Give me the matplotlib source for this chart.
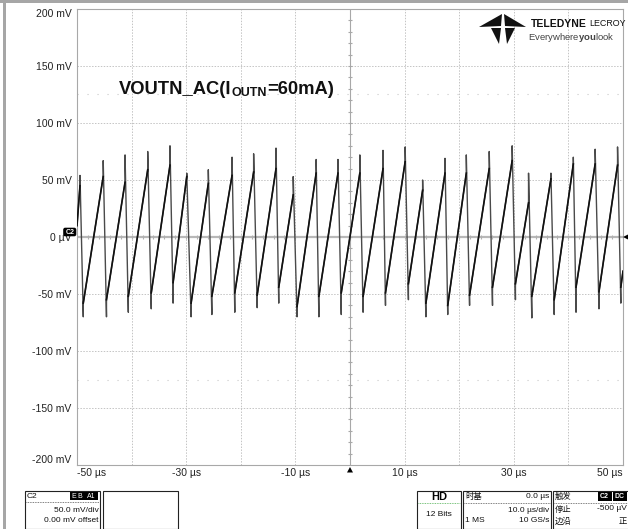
import numpy as np
import matplotlib
matplotlib.use('Agg')
import matplotlib.pyplot as plt
from matplotlib.patches import Rectangle, Polygon, FancyBboxPatch

# --- fonts --- #
plt.rcParams['font.family'] = ['Liberation Sans', 'Noto Sans CJK SC', 'DejaVu Sans']
plt.rcParams['mathtext.fontset'] = 'custom'
plt.rcParams['mathtext.rm'] = 'Liberation Sans'
plt.rcParams['mathtext.bf'] = 'Liberation Sans:bold'

# --- waveform (us, mV) --- #
start_t, start_v = -50.0, 10
end_t, end_v = 50.0, -30

peak_t = [-49.45, -45.2, -41.2, -37.05, -32.97, -29.9, -25.95, -21.6, -17.65,
          -13.55, -10.4, -6.2, -2.2, 1.8, 6.05, 10.1, 13.3, 17.4, 21.3, 25.5,
          29.7, 32.7, 36.8, 40.9, 44.9, 49.0]
peak_v = [45, 53, 48, 59, 63, 53, 47, 54, 57, 60, 37, 56, 56, 56, 60, 66, 41,
          56, 56, 60, 67, 30, 51, 64, 64, 63]
spike_hi = [54, 67, 72, 75, 80, 56, 59, 70, 73, 78, 53, 68, 68, 72, 76, 79, 50,
            69, 72, 75, 80, 56, 56, 70, 77, 79]

trough_t = [-48.85, -44.6, -40.6, -36.4, -32.4, -29.1, -25.3, -21.1, -17.0,
            -13.05, -9.7, -5.7, -1.6, 2.4, 6.5, 10.7, 13.9, 17.9, 21.9, 26.1,
            30.3, 33.3, 37.4, 41.4, 45.6, 49.6]
trough_v = [-58, -55, -52, -49, -40, -58, -52, -49, -51, -44, -61, -52, -49,
            -52, -49, -41, -58, -60, -51, -44, -41, -52, -55, -44, -48, -44]
spike_lo = [-70, -70, -66, -63, -58, -70, -68, -66, -62, -58, -70, -70, -68,
            -66, -60, -55, -70, -68, -60, -60, -55, -71, -68, -66, -63, -58]

y_ticks = [-200, -150, -100, -50, 0, 50, 100, 150, 200]
y_labels = ['-200 mV', '-150 mV', '-100 mV', '-50 mV', '0 \u00b5V', '50 mV',
            '100 mV', '150 mV', '200 mV']
x_ticks = [-50, -30, -10, 10, 30, 50]
x_labels = ['-50 \u00b5s', '-30 \u00b5s', '-10 \u00b5s', '10 \u00b5s', '30 \u00b5s', '50 \u00b5s']

# full trace (ramps + fast edges)
trace_t = [start_t]
trace_v = [start_v]
for i in range(len(peak_t)):
    trace_t += [peak_t[i], peak_t[i], trough_t[i], trough_t[i]]
    trace_v += [peak_v[i], spike_hi[i], spike_lo[i], trough_v[i]]
trace_t.append(end_t)
trace_v.append(end_v)

# ramps only, drawn a bit heavier on top
ramp_t = [start_t, peak_t[0], np.nan]
ramp_v = [start_v, peak_v[0], np.nan]
for i in range(len(trough_t)):
    nxt_t = peak_t[i + 1] if i + 1 < len(peak_t) else end_t
    nxt_v = peak_v[i + 1] if i + 1 < len(peak_v) else end_v
    ramp_t += [trough_t[i], nxt_t, np.nan]
    ramp_v += [trough_v[i], nxt_v, np.nan]

W, H = 628, 529
fig = plt.figure(figsize=(W / 100, H / 100), dpi=100)
fig.patch.set_facecolor('white')

ax = fig.add_axes([77 / W, 1 - 465 / H, 546 / W, 456 / H])
ax.set_xlim(-50, 50)
ax.set_ylim(-200, 200)
for s in ax.spines.values():
    s.set_color('#a8a8a8')
    s.set_linewidth(0.8)

grid_kw = dict(color='#c4c4c4', lw=0.7, ls=(0, (1.5, 1.5)), zorder=1)
for gx in np.arange(-40, 50, 10):
    if gx != 0:
        ax.axvline(gx, **grid_kw)
for gy in np.arange(-150, 200, 50):
    if gy != 0:
        ax.axhline(gy, **grid_kw)
for gy in (125, -125):
    ax.axhline(gy, color='#c8c8c8', lw=0.8, ls=(0, (1, 8)), zorder=1)

# centre cross with small ticks
ax.axhline(0, color='#b8b8b8', lw=1.6, zorder=1)
ax.axvline(0, color='#a8a8a8', lw=0.8, zorder=1)
ax.plot(np.arange(-48, 50, 2), np.zeros(49), ls='', marker='|', ms=3.5,
        mew=0.8, color='#b0b0b0', zorder=1)
ax.plot(np.zeros(39), np.arange(-190, 200, 10), ls='', marker='_', ms=3,
        mew=0.8, color='#a8a8a8', zorder=1)

ax.plot(trace_t, trace_v, color='#4a4a4a', lw=1.0, zorder=3)
ax.plot(ramp_t, ramp_v, color='#111111', lw=1.2, zorder=4)

ax.set_yticks(y_ticks)
ax.set_yticklabels(y_labels)
ax.set_xticks(x_ticks)
ax.set_xticklabels(x_labels)
ax.tick_params(length=0, labelsize=7.5, labelcolor='#222222')
ax.tick_params(axis='y', pad=4)
ax.tick_params(axis='x', pad=2.5)
yl = ax.get_yticklabels()
yl[-1].set_va('top')
yl[0].set_va('bottom')
xl = ax.get_xticklabels()
xl[0].set_ha('left')
xl[-1].set_ha('right')

# --- overlay in pixel coordinates for the scope furniture --- #
ov = fig.add_axes([0, 0, 1, 1], zorder=5)
ov.set_xlim(0, W)
ov.set_ylim(H, 0)
ov.axis('off')
rend = fig.canvas.get_renderer()


def run_text(x, y, parts):
    # parts: (text, fontsize, weight, dy, colour)
    for s, fs, wt, dy, col in parts:
        t = ov.text(x, y + dy, s, fontsize=fs, fontweight=wt, ha='left',
                    va='baseline', color=col)
        x += t.get_window_extent(rend).width


# title
run_text(119, 93.5, [('VOUTN_AC(I', 13.2, 'bold', 0, '#111111'),
                     ('OUTN', 9, 'bold', 3, '#111111'),
                     ('=60mA)', 13.2, 'bold', 0, '#111111')])

ov.add_patch(Rectangle((0, 0), W, 3, color='#a6a6a6', lw=0))
ov.add_patch(Rectangle((3, 0), 3, H, color='#a6a6a6', lw=0))

# C2 marker and arrows
ov.add_patch(FancyBboxPatch((64, 228.5), 11.5, 7, boxstyle='round,pad=0.8,rounding_size=2',
                            color='black', lw=0))
ov.text(69.8, 232, 'C2', color='white', fontsize=5, fontweight='bold', ha='center', va='center')
ov.add_patch(Polygon([(623, 237), (628, 234.5), (628, 239.5)], color='black', lw=0))
ov.add_patch(Polygon([(347, 472.5), (353, 472.5), (350, 467)], color='black', lw=0))

# logo
for pts in ([(479, 27), (502, 14), (501, 26)], [(526, 27), (504, 14), (505, 26)],
            [(491, 28), (501, 28), (499, 44)], [(515, 28), (505, 28), (507, 44)]):
    ov.add_patch(Polygon(pts, color='#111111', lw=0))
ov.text(587, 24, 'TELEDYNE', fontsize=7.5, fontweight='bold',
        ha='right', va='center', color='#111111')
ov.text(589, 24, 'LECROY', fontsize=6.4, ha='left', va='center', color='#111111')
ov.text(528, 37, r'$\mathrm{Everywhere}\mathbf{you}\mathrm{look}$', fontsize=6.8,
        ha='left', va='center', color='#444444')

# info boxes
box_kw = dict(fill=False, ec='#222222', lw=0.8)
sep_kw = dict(color='#555555', lw=0.6, ls=(0, (1, 1)))
tf = dict(fontsize=6, color='#111111', va='center')
cjk = ['Noto Sans CJK SC', 'DejaVu Sans']

ov.add_patch(Rectangle((25, 491), 75, 38, **box_kw))
ov.plot([26, 99], [502, 502], **sep_kw)
ov.text(27, 496, 'C2', ha='left', **tf)
for x0, w, lab in ((70, 6.5, 'E'), (77, 6.5, 'B'), (84, 14, 'A1')):
    ov.add_patch(Rectangle((x0, 492), w, 8, color='black', lw=0))
    ov.text(x0 + w / 2, 496, lab, ha='center', fontsize=5, color='white', va='center')
ov.text(99, 511, '50.0 mV/div', ha='right', **tf)
ov.text(99, 521, '0.00 mV offset', ha='right', **tf)
ov.add_patch(Rectangle((103, 491), 75, 38, **box_kw))

ov.add_patch(Rectangle((417, 491), 44, 38, **box_kw))
ov.plot([418, 460], [503, 503], color='#4caf50', lw=0.6, ls=(0, (1, 1)))
ov.text(439, 496.5, 'HD', ha='center', fontsize=8, fontweight='bold', va='center')
ov.text(439, 514, '12 Bits', ha='center', **tf)

ov.add_patch(Rectangle((463, 491), 88, 38, **box_kw))
ov.plot([464, 550], [503, 503], **sep_kw)
ov.text(465, 496, '\u65f6\u57fa', ha='left', family=cjk, **tf)
ov.text(549, 496, '0.0 \u00b5s', ha='right', **tf)
ov.text(549, 510, '10.0 \u00b5s/div', ha='right', **tf)
ov.text(465, 521, '1 MS', ha='left', **tf)
ov.text(549, 521, '10 GS/s', ha='right', **tf)

ov.add_patch(Rectangle((553, 491), 76, 38, **box_kw))
ov.plot([554, 628], [503, 503], **sep_kw)
ov.text(555, 496, '\u89e6\u53d1', ha='left', family=cjk, **tf)
for x0, lab in ((598, 'C2'), (613, 'DC')):
    ov.add_patch(Rectangle((x0, 492), 13.5, 8.5, color='black', lw=0))
    ov.text(x0 + 6.75, 496.3, lab, ha='center', fontsize=5, fontweight='bold', color='white', va='center')
ov.text(555, 509, '\u505c\u6b62', ha='left', family=cjk, **tf)
ov.text(627, 509, '-500 \u00b5V', ha='right', **tf)
ov.text(555, 521, '\u8fb9\u6cbf', ha='left', family=cjk, **tf)
ov.text(627, 521, '\u6b63', ha='right', family=cjk, **tf)

fig.savefig('out.png', dpi=100)
